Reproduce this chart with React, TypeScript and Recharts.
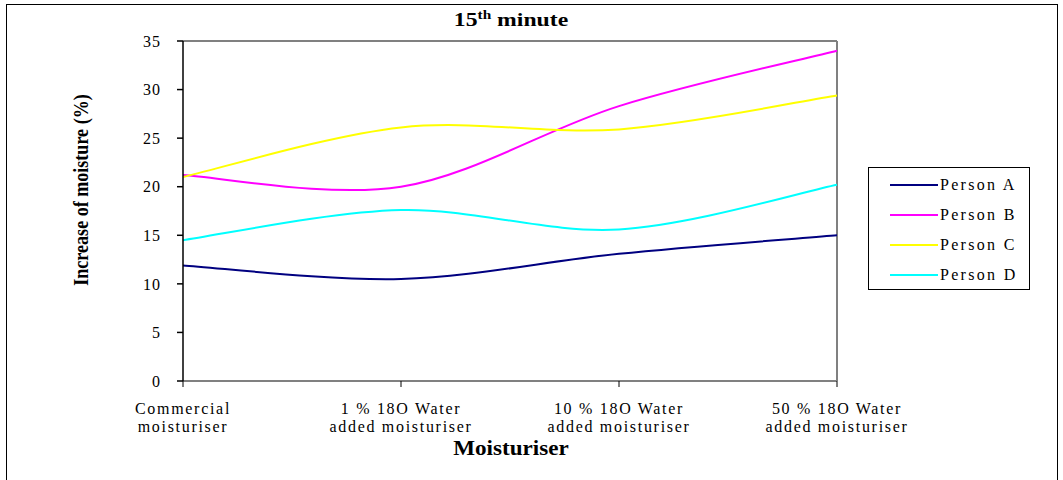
import { LineChart, Line, XAxis, YAxis, Legend, ReferenceLine } from "recharts";

// moisturiser categories, split in two lines for the tick labels
const categories = ["Commercial", "1%", "10%", "50%"];
const tickLines: string[][] = [
  ["Commercial", "moisturiser"],
  ["1 % 18O Water", "added moisturiser"],
  ["10 % 18O Water", "added moisturiser"],
  ["50 % 18O Water", "added moisturiser"],
];

const personA = [11.9, 10.5, 13.1, 15.0];
const personB = [21.2, 20.0, 28.3, 34.0];
const personC = [21.0, 26.1, 25.9, 29.4];
const personD = [14.5, 17.6, 15.6, 20.2];

const yTicks = [0, 5, 10, 15, 20, 25, 30, 35];

const series = [
  { name: "Person A", values: personA, color: "#000080" },
  { name: "Person B", values: personB, color: "#FF00FF" },
  { name: "Person C", values: personC, color: "#FFFF00" },
  { name: "Person D", values: personD, color: "#00FFFF" },
];

const data = categories.map((c, i) => {
  const row: any = { cat: c, idx: i };
  series.forEach((s) => (row[s.name] = s.values[i]));
  return row;
});

const FONT = "'Liberation Serif', 'Times New Roman', serif";

// excel-like smoothing (catmull-rom as bezier)
const excelCurve = (context: any) => {
  let pts: number[][] = [];
  return {
    areaStart() {},
    areaEnd() {},
    lineStart() {
      pts = [];
    },
    point(x: number, y: number) {
      pts.push([+x, +y]);
    },
    lineEnd() {
      const n = pts.length;
      if (!n) return;
      context.moveTo(pts[0][0], pts[0][1]);
      for (let i = 0; i < n - 1; i++) {
        const p0 = pts[Math.max(i - 1, 0)];
        const p1 = pts[i];
        const p2 = pts[i + 1];
        const p3 = pts[Math.min(i + 2, n - 1)];
        context.bezierCurveTo(
          p1[0] + (p2[0] - p0[0]) / 6,
          p1[1] + (p2[1] - p0[1]) / 6,
          p2[0] - (p3[0] - p1[0]) / 6,
          p2[1] - (p3[1] - p1[1]) / 6,
          p2[0],
          p2[1]
        );
      }
    },
  };
};

function XTick(props: any) {
  const { x, y, index } = props;
  const lines = tickLines[index] || [];
  return (
    <g transform={`translate(${x},${y})`}>
      {lines.map((l, i) => (
        <text
          key={i}
          x={0}
          y={25 + i * 18}
          textAnchor="middle"
          fontFamily={FONT}
          fontSize={16}
          letterSpacing={1.7}
          fill="#000"
        >
          {l}
        </text>
      ))}
    </g>
  );
}

function LegendBox() {
  return (
    <div
      style={{
        width: 162,
        height: 123,
        border: "1px solid #000",
        background: "#fff",
        fontFamily: FONT,
        fontSize: 16,
        boxSizing: "border-box",
        paddingTop: 2,
      }}
    >
      {series.map((s) => (
        <div key={s.name} style={{ display: "flex", alignItems: "center", height: 30 }}>
          <div style={{ marginLeft: 21, width: 48, height: 2, background: s.color }} />
          <span style={{ marginLeft: 2, letterSpacing: 2.3 }}>{s.name}</span>
        </div>
      ))}
    </div>
  );
}

export default function App() {
  return (
    <div style={{ position: "absolute", left: 0, top: 0, width: 1063, height: 480, background: "#fff", overflow: "hidden" }}>
      <div
        style={{
          position: "absolute",
          left: 6,
          top: 4,
          width: 1050,
          height: 520,
          border: "1px solid #000",
        }}
      />
      <div
        style={{
          position: "absolute",
          left: 511,
          top: 10,
          transform: "translateX(-50%) scaleX(1.28)",
          whiteSpace: "nowrap",
          fontFamily: FONT,
          fontWeight: "bold",
          fontSize: 18.5,
          lineHeight: "normal",
        }}
      >
        15<span style={{ fontSize: 12, position: "relative", top: -7 }}>th</span> minute
      </div>
      <div
        style={{
          position: "absolute",
          left: 511,
          top: 436,
          transform: "translateX(-50%) scaleX(1.1)",
          whiteSpace: "nowrap",
          fontFamily: FONT,
          fontWeight: "bold",
          fontSize: 21,
        }}
      >
        Moisturiser
      </div>
      <div
        style={{
          position: "absolute",
          left: 81,
          top: 190,
          transform: "translate(-50%, -50%) rotate(-90deg) scaleX(0.86)",
          whiteSpace: "nowrap",
          fontFamily: FONT,
          fontWeight: "bold",
          fontSize: 21,
        }}
      >
        Increase of moisture (%)
      </div>
      <div style={{ position: "absolute", left: 0, top: 0 }}>
        <LineChart width={1063} height={480} data={data} margin={{ top: 41, right: 226, left: 123, bottom: 39 }}>
          <ReferenceLine y={35} stroke="#808080" strokeWidth={2} />
          <ReferenceLine x="50%" stroke="#808080" strokeWidth={2} />
          <XAxis
            dataKey="cat"
            height={60}
            stroke="#808080"
            strokeWidth={2}
            tickLine={{ stroke: "#000", strokeWidth: 1 }}
            tickSize={6}
            tick={<XTick />}
            interval={0}
          />
          <YAxis
            width={60}
            domain={[0, 35]}
            ticks={yTicks}
            stroke="#000"
            strokeWidth={1.5}
            tickSize={6}
            tickMargin={16}
            tick={{ fontFamily: FONT, fontSize: 16, fill: "#000", letterSpacing: 1 }}
          />
          <Legend
            layout="vertical"
            align="center"
            verticalAlign="middle"
            wrapperStyle={{ left: 868, top: 167, width: 162 }}
            content={() => <LegendBox />}
          />
          {series.map((s) => (
            <Line
              key={s.name}
              dataKey={s.name}
              type={excelCurve as any}
              stroke={s.color}
              strokeWidth={2}
              dot={false}
              isAnimationActive={false}
            />
          ))}
        </LineChart>
      </div>
    </div>
  );
}
